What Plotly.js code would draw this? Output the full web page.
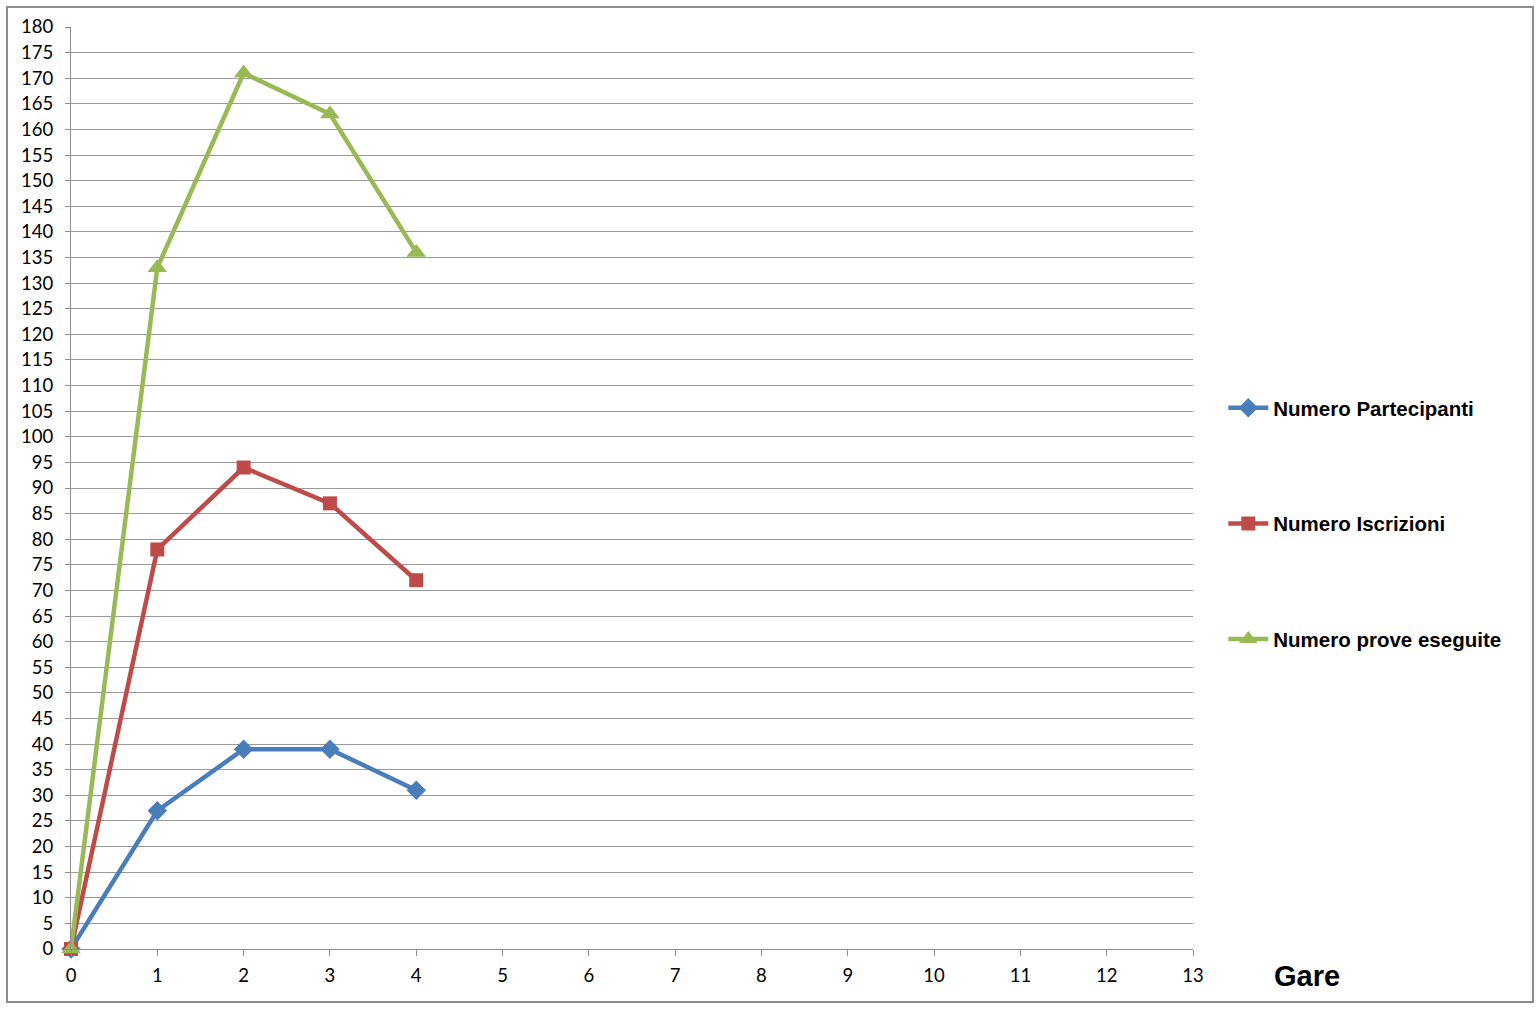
<!DOCTYPE html>
<html>
<head>
<meta charset="utf-8">
<script src="https://cdn.plot.ly/plotly-3.0.1.min.js"></script>
<style>
html,body{margin:0;padding:0;background:#fff;}
#chart{width:1540px;height:1010px;}
</style>
</head>
<body>
<div id="chart"></div>
<script>
const gare = [0, 1, 2, 3, 4];
const partecipanti = [0, 27, 39, 39, 31];
const iscrizioni = [0, 78, 94, 87, 72];
const prove = [0, 133, 171, 163, 136];
const seriesNames = ["Numero Partecipanti", "Numero Iscrizioni", "Numero prove eseguite"];
const xTicks = [0,1,2,3,4,5,6,7,8,9,10,11,12,13];
const yTicks = [];
for (let v = 0; v <= 180; v += 5) yTicks.push(v);

const tickFont = {family: "Lato, 'Open Sans', sans-serif", size: 18.5, color: "#000"};

function trace(y, name, color, symbol, size, group) {
  return {
    x: gare, y: y, name: name, type: "scatter", mode: "lines+markers",
    line: {color: color, width: 4.5},
    marker: {color: color, symbol: symbol, size: size},
    cliponaxis: false, legendgroup: group
  };
}

const data = [
  trace(partecipanti, seriesNames[0], "#4A7EBB", "diamond", 15, "a"),
  trace(iscrizioni, seriesNames[1], "#BE4B48", "square", 14, "b"),
  trace(prove, seriesNames[2], "#98B954", "triangle-up", 17, "c")
];

const layout = {
  width: 1540, height: 1010,
  margin: {l: 71, r: 347, t: 27, b: 61},
  paper_bgcolor: "#fff", plot_bgcolor: "#fff",
  showlegend: true,
  legend: {
    x: 1.027, y: 0.6085, xanchor: "left", yanchor: "top",
    traceorder: "grouped", tracegroupgap: 86,
    itemwidth: 40,
    font: {family: "'Liberation Sans', Arial, sans-serif", size: 20.5, color: "#000", weight: "bold"}
  },
  xaxis: {
    range: [0, 13], tickmode: "array", tickvals: xTicks, ticktext: xTicks.map(String),
    showgrid: false, zeroline: false, showline: true, linecolor: "#8c8c8c", linewidth: 1,
    ticks: "outside", ticklen: 6, tickcolor: "#8c8c8c", tickfont: tickFont,
    ticklabelstandoff: 4
  },
  yaxis: {
    range: [0, 180], tickmode: "array", tickvals: yTicks, ticktext: yTicks.map(String),
    showgrid: true, gridcolor: "#9a9a9a", gridwidth: 1, zeroline: false,
    showline: true, linecolor: "#8c8c8c", linewidth: 1,
    ticks: "outside", ticklen: 5, tickcolor: "#8c8c8c", tickfont: tickFont,
    ticklabelstandoff: 8
  },
  annotations: [{
    text: "Gare", xref: "paper", yref: "paper",
    x: (1307 - 71) / 1122, y: -(976 - 949) / 922, xanchor: "center", yanchor: "middle",
    showarrow: false,
    font: {family: "'Liberation Sans', Arial, sans-serif", size: 29, color: "#000", weight: "bold"}
  }],
  shapes: [{
    type: "rect", xref: "paper", yref: "paper",
    x0: (7 - 71) / 1122, x1: (1533 - 71) / 1122,
    y0: -(1002 - 949) / 922, y1: (949 - 7) / 922,
    line: {color: "#8c8c8c", width: 2}, fillcolor: "rgba(0,0,0,0)", layer: "below"
  }]
};

Plotly.newPlot("chart", data, layout, {displayModeBar: false, staticPlot: true});
</script>
</body>
</html>
